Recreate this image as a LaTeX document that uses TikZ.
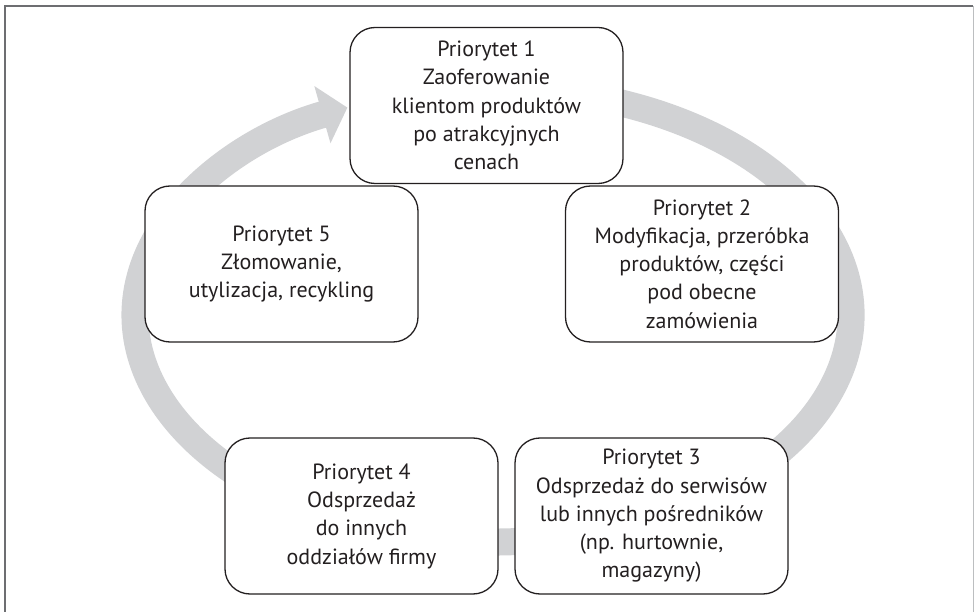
\documentclass[tikz,border=0pt]{standalone}
\usepackage{fontspec}
\setmainfont{PT Sans}
\usetikzlibrary{arrows.meta}
\definecolor{ringgray}{HTML}{D1D2D4}
\definecolor{ink}{HTML}{231F20}
\definecolor{framegray}{HTML}{6D6E71}
\definecolor{framelight}{HTML}{BCBEC0}
\begin{document}
\begin{tikzpicture}[x=1pt,y=-1pt,
  prio/.style={draw=ink, line width=1.3pt, rounded corners=25pt,
    minimum width=273pt, minimum height=156pt, inner sep=0pt,
    align=center, text=ink, fill=white,
    font=\fontsize{22}{28.3}\selectfont},
  ring/.style={draw=ringgray, line width=27pt}]
\useasboundingbox (0,0) rectangle (978,612);
% outer frame
\draw[framegray, line width=1.6pt] (5,614) -- (5,6) -- (973,6);
\draw[framelight, line width=1pt] (973,6) -- (973,614);
% circular flow behind the boxes
\draw[ring, -{Triangle[width=58pt,length=26pt]}]
  (597.7,97.9) arc[start angle=287, end angle=606, x radius=358, y radius=227];
% priority boxes
\node[prio] (p1) at (486.5,105.5) {Priorytet 1\\Zaoferowanie\\klientom produktów\\po atrakcyjnych\\cenach};
\node[prio] (p2) at (702,264) {Priorytet 2\\Modyfikacja, przeróbka\\produktów, części\\pod obecne\\zamówienia};
\node[prio] (p3) at (651.5,516) {Priorytet 3\\Odsprzedaż do serwisów\\lub innych pośredników\\(np. hurtownie,\\magazyny)};
\node[prio] (p4) at (361.5,516) {Priorytet 4\\Odsprzedaż\\do innych\\oddziałów firmy};
\node[prio] (p5) at (281.5,264) {Priorytet 5\\Złomowanie,\\utylizacja, recykling};
\end{tikzpicture}
\end{document}
